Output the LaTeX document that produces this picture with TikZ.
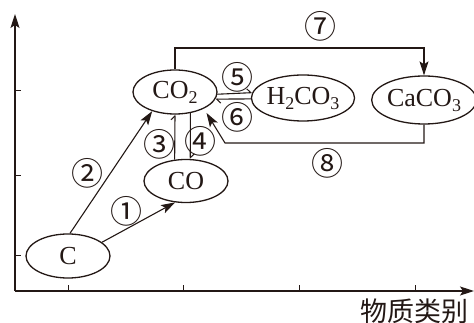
\documentclass[tikz,border=0pt]{standalone}
\usepackage{fontspec}
\setmainfont{Liberation Serif}
\newfontfamily\cjk{Noto Sans CJK SC}
\usetikzlibrary{shapes.geometric,arrows.meta}
\definecolor{ink}{RGB}{35,24,21}
\newcommand\sbs[1]{\raisebox{-5pt}{\fontsize{18}{18}\selectfont #1}}
\begin{document}
\begin{tikzpicture}[x=1pt,y=-1pt,color=ink,
  ell/.style={ellipse,draw,line width=1.3pt,inner sep=0pt,font=\fontsize{26}{26}\selectfont},
  con/.style={line width=1.1pt},
  big/.style={-{Stealth[length=14pt,width=9pt,inset=3pt]}},
  small/.style={-{Straight Barb[harpoon,length=4pt,width=8pt,line width=1pt]}},
  num/.style={font=\cjk\fontsize{32}{32}\selectfont,inner sep=0pt},
  axis/.style={line width=1.3pt},
  tick/.style={line width=1pt}
]
\useasboundingbox (0,0) rectangle (474,323);
% axes
\coordinate (O) at (15,291);
\coordinate (ytop) at (15,14);
\coordinate (xr) at (474,291);
\draw[axis,big] (O) -- (ytop);
\draw[axis,big] (O) -- (xr);
\foreach \x in {68,183,299,415} \draw[tick] (\x,291) -- (\x,285);
\foreach \y in {91,176,256} \draw[tick] (15,\y) -- (21,\y);
\node[font=\cjk\fontsize{27}{27}\selectfont,inner sep=0pt] (lab) at (414,311) {物质类别};
% nodes
\node[ell,minimum width=84pt,minimum height=44pt] (C) at (68,256) {C};
\node[ell,minimum width=84pt,minimum height=43pt] (CO) at (186,181) {CO};
\node[ell,minimum width=84pt,minimum height=44pt] (CO2) at (175,92) {CO\sbs{2}};
\node[ell,minimum width=98pt,minimum height=46pt] (H2CO3) at (303,98) {H\sbs{2}CO\sbs{3}};
\node[ell,minimum width=96pt,minimum height=48pt] (CaCO3) at (424,100) {CaCO\sbs{3}};
% connectors
\draw[con,big] (C.85) -- (CO2.220);
\draw[con,big] (C.22) -- (CO.243);
\draw[con,small] (CO.118) -- (CO2.south);
\draw[con,small] (CO2.306) -- (CO.79);
\draw[con,small] (CO2.-3) -- (H2CO3.174);
\draw[con,small] (H2CO3.181) -- (CO2.350);
\coordinate (t7) at (175,48);
\draw[con,big] (CO2.north) -- (t7) -| (CaCO3.north);
\coordinate (b8) at (225,143);
\draw[con,big,shorten >=5pt] (CaCO3.south) |- (b8) -- (CO2.330);
% labels
\node[num] (n1) at (126,211) {①};
\node[num] (n2) at (87,173) {②};
\node[num] (n3) at (159,144) {③};
\node[num] (n4) at (200,141) {④};
\node[num] (n5) at (237,77) {⑤};
\node[num] (n6) at (237,117) {⑥};
\node[num] (n7) at (320,26) {⑦};
\node[num] (n8) at (327,163) {⑧};
\end{tikzpicture}
\end{document}
